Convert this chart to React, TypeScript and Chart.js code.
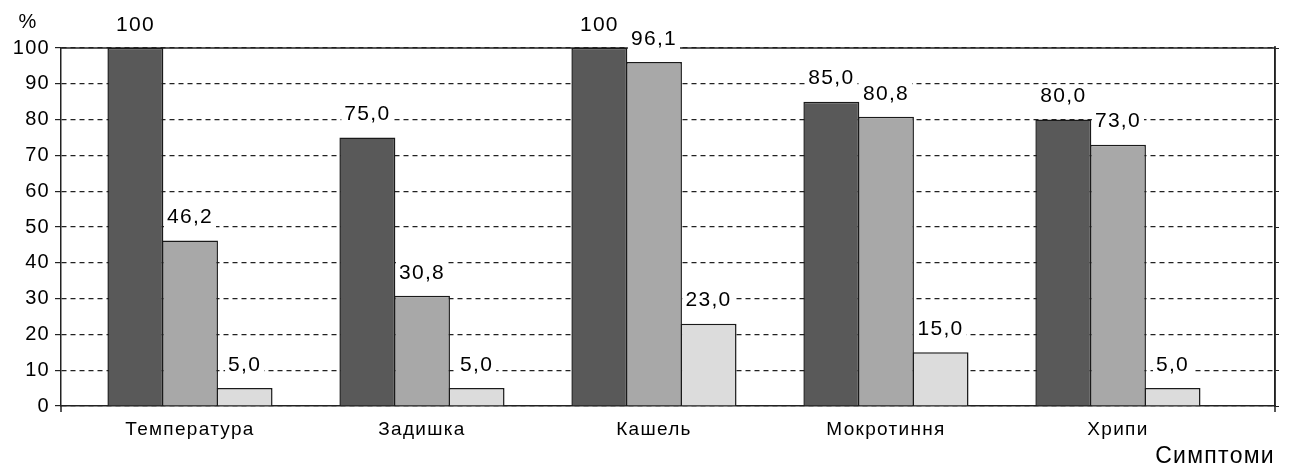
import React, { useEffect, useRef } from "react";
import { Chart, registerables } from "chart.js";

Chart.register(...registerables);

// Symptom groups and the share of patients (%) for each of the three groups
const categories = ["Температура", "Задишка", "Кашель", "Мокротиння", "Хрипи"];
const seriesDark = [100, 75.0, 100, 85.0, 80.0];
const seriesMid = [46.2, 30.8, 96.1, 80.8, 73.0];
const seriesLight = [5.0, 5.0, 23.0, 15.0, 5.0];
const yTicks = [0, 10, 20, 30, 40, 50, 60, 70, 80, 90, 100];

const FONT = "'Liberation Sans', Arial, Helvetica, sans-serif";
const INK = "#000000";

const formatValue = (v: number) => (v === 100 ? "100" : v.toFixed(1).replace(".", ","));

const toPoints = (values: number[]) => values.map((y, x) => ({ x, y }));

// Letter spacing for all canvas text, the solid top frame line and the axis stubs
const framePlugin = {
  id: "frame",
  beforeDraw(chart: any) {
    chart.ctx.letterSpacing = "1.3px";
  },
  beforeDatasetsDraw(chart: any) {
    const { ctx, chartArea } = chart;
    ctx.save();
    ctx.strokeStyle = "#222222";
    ctx.lineWidth = 1.5;
    ctx.beginPath();
    ctx.moveTo(chartArea.left, chartArea.top);
    ctx.lineTo(chartArea.right, chartArea.top);
    ctx.stroke();
    ctx.restore();
  },
  afterDraw(chart: any) {
    const { ctx, chartArea } = chart;
    ctx.save();
    ctx.strokeStyle = "#222222";
    ctx.lineWidth = 1.5;
    ctx.beginPath();
    ctx.moveTo(chartArea.left, chartArea.bottom);
    ctx.lineTo(chartArea.left, chartArea.bottom + 6);
    ctx.moveTo(chartArea.right, chartArea.top - 2);
    ctx.lineTo(chartArea.right, chartArea.bottom + 6);
    ctx.stroke();
    ctx.font = `20px ${FONT}`;
    ctx.fillStyle = INK;
    ctx.textAlign = "center";
    ctx.textBaseline = "middle";
    ctx.fillText("%", chartArea.left - 33, chartArea.top - 26);
    ctx.restore();
  },
};

// Value labels above bars on a white box that interrupts the grid lines
const valueLabelPlugin = {
  id: "valueLabels",
  afterDatasetsDraw(chart: any) {
    const { ctx } = chart;
    ctx.save();
    ctx.font = `21px ${FONT}`;
    ctx.textAlign = "center";
    ctx.textBaseline = "middle";
    chart.data.datasets.forEach((ds: any, di: number) => {
      const meta = chart.getDatasetMeta(di);
      meta.data.forEach((bar: any, i: number) => {
        const text = formatValue(ds.data[i].y);
        const cy = bar.y - 23;
        const w = ctx.measureText(text).width;
        ctx.fillStyle = "#ffffff";
        ctx.fillRect(bar.x - w / 2 - 3, cy - 12, w + 6, 27);
        ctx.fillStyle = INK;
        ctx.fillText(text, bar.x, cy);
      });
    });
    ctx.restore();
  },
};

export default function App() {
  const canvasRef = useRef<HTMLCanvasElement | null>(null);

  useEffect(() => {
    document.body.style.margin = "0";
    const canvas = canvasRef.current;
    if (!canvas) return;

    const barStyle = {
      borderColor: "#1a1a1a",
      borderWidth: 1.5,
      borderSkipped: "start",
      categoryPercentage: 0.706,
      barPercentage: 1.025,
    };

    const chart = new Chart(canvas, {
      type: "bar",
      data: {
        datasets: [
          { label: "1", data: toPoints(seriesDark), backgroundColor: "#595959", ...barStyle },
          { label: "2", data: toPoints(seriesMid), backgroundColor: "#a8a8a8", ...barStyle },
          { label: "3", data: toPoints(seriesLight), backgroundColor: "#dcdcdc", ...barStyle },
        ] as any,
      },
      options: {
        animation: false,
        responsive: true,
        maintainAspectRatio: false,
        layout: { padding: { top: 48, left: 0, right: 0, bottom: 0 } },
        plugins: {
          legend: { display: false },
          tooltip: { enabled: false },
        },
        scales: {
          x: {
            type: "linear",
            offset: false,
            min: -0.556,
            max: 4.677,
            afterBuildTicks(scale: any) {
              scale.ticks = categories.map((_, i) => ({ value: i }));
            },
            ticks: {
              autoSkip: false,
              maxRotation: 0,
              padding: 4,
              color: INK,
              font: { family: FONT, size: 19 },
              callback: (v: any) => categories[v] ?? "",
            },
            grid: { display: false, offset: false },
            border: { display: true, color: "#222222", width: 1.5 },
            title: {
              display: true,
              text: "Симптоми",
              align: "end",
              color: INK,
              font: { family: FONT, size: 23 },
              padding: { top: 0, bottom: 1 },
            },
            afterFit(scale: any) {
              scale.height = 65;
            },
          },
          y: {
            min: 0,
            max: 100,
            afterBuildTicks(scale: any) {
              scale.ticks = yTicks.map((value) => ({ value }));
            },
            ticks: {
              color: INK,
              padding: 5,
              font: { family: FONT, size: 20 },
            },
            grid: {
              color: "#222222",
              lineWidth: 1.2,
              tickLength: 6,
              tickColor: "#222222",
              tickBorderDash: [],
            },
            border: { display: true, color: "#222222", width: 1.5, dash: [5, 4] },
            afterFit(scale: any) {
              scale.width = 61;
            },
          },
          y2: {
            position: "right",
            min: 0,
            max: 100,
            afterBuildTicks(scale: any) {
              scale.ticks = yTicks.map((value) => ({ value }));
            },
            ticks: { display: false },
            grid: {
              drawOnChartArea: false,
              tickLength: 4,
              color: "#222222",
              tickBorderDash: [],
            },
            border: { display: true, color: "#222222", width: 1.5 },
            afterFit(scale: any) {
              scale.width = 15;
            },
          },
        },
      } as any,
      plugins: [framePlugin, valueLabelPlugin],
    });

    return () => chart.destroy();
  }, []);

  return (
    <div style={{ width: 1290, height: 471, position: "relative" }}>
      <canvas ref={canvasRef} style={{ display: "block" }} />
    </div>
  );
}
